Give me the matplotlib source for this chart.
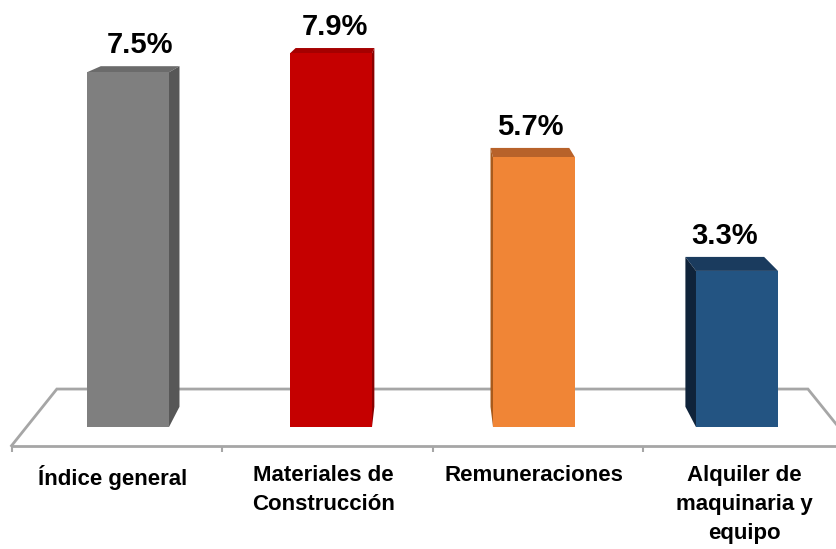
import numpy as np
import matplotlib.pyplot as plt
from matplotlib.patches import Polygon

categories = ['Índice general', 'Materiales de\nConstrucción', 'Remuneraciones',
              'Alquiler de\nmaquinaria y\nequipo']
values = [7.5, 7.9, 5.7, 3.3]
labels = ['7.5%', '7.9%', '5.7%', '3.3%']
front_colors = ['#7f7f7f', '#c50000', '#f08536', '#235482']
side_colors = ['#575757', '#8b0000', '#a85a1c', '#0f233a']
top_colors = ['#6b6b6b', '#a50000', '#b8622a', '#1a3b5e']

plt.rcParams['font.family'] = ['Liberation Sans', 'DejaVu Sans']

# perspective: vanishing point (data coords) and depth scales
VP = np.array([1.4926, 10.7])
BAR_BACK = 0.96
FLOOR_FRONT = 1.037
FLOOR_BACK = 0.925
WIDTH = 0.404


def proj(x, y, s):
    return VP + (np.array([x, y]) - VP) * s


fig = plt.figure(figsize=(8.37, 5.49), dpi=100)
ax = fig.add_axes([0, 0, 1, 1])
ax.set_xlim(-128 / 203, (837 - 128) / 203)
ax.set_ylim(-122 / 47.3, (549 - 122) / 47.3)
ax.axis('off')

# floor
n = len(categories)
fl = proj(-0.5, 0, FLOOR_FRONT)
fr = proj(n - 0.5, 0, FLOOR_FRONT)
bl = proj(-0.5, 0, FLOOR_BACK)
br = proj(n - 0.5, 0, FLOOR_BACK)
floor = np.array([fl, bl, br, fr])
ax.plot(floor[:, 0], floor[:, 1], color='#a6a6a6', lw=2, zorder=1,
        solid_joinstyle='miter')
ax.plot([fl[0], fr[0]], [fl[1], fr[1]], color='#a6a6a6', lw=2, zorder=1)
for k in range(n + 1):
    t = proj(k - 0.5, 0, FLOOR_FRONT)
    ax.vlines(t[0], t[1] - 0.13, t[1], color='#a6a6a6', lw=1.5, zorder=1)

x = np.arange(n)
ax.bar(x, values, width=WIDTH, color=front_colors, zorder=3)

for i, v in enumerate(values):
    l, r = i - WIDTH / 2, i + WIDTH / 2
    top = [proj(l, v, 1), proj(r, v, 1), proj(r, v, BAR_BACK), proj(l, v, BAR_BACK)]
    ax.add_patch(Polygon(top, closed=True, color=top_colors[i], zorder=2, lw=0))
    e = r if i < VP[0] else l
    side = [proj(e, 0, 1), proj(e, v, 1), proj(e, v, BAR_BACK), proj(e, 0, BAR_BACK)]
    ax.add_patch(Polygon(side, closed=True, color=side_colors[i], zorder=2, lw=0))
    tb = proj(i, v, BAR_BACK)
    ax.annotate(labels[i], (tb[0], tb[1]), xytext=(0, 5), textcoords='offset points',
                ha='center', va='bottom', fontsize=21, fontweight='bold', color='black')
    lb = proj(i, 0, FLOOR_FRONT)
    ax.text(lb[0] - 0.02, -0.80, categories[i], ha='center', va='top', fontsize=16,
            fontweight='bold', linespacing=1.5)

fig.savefig('out.png', dpi=100)
